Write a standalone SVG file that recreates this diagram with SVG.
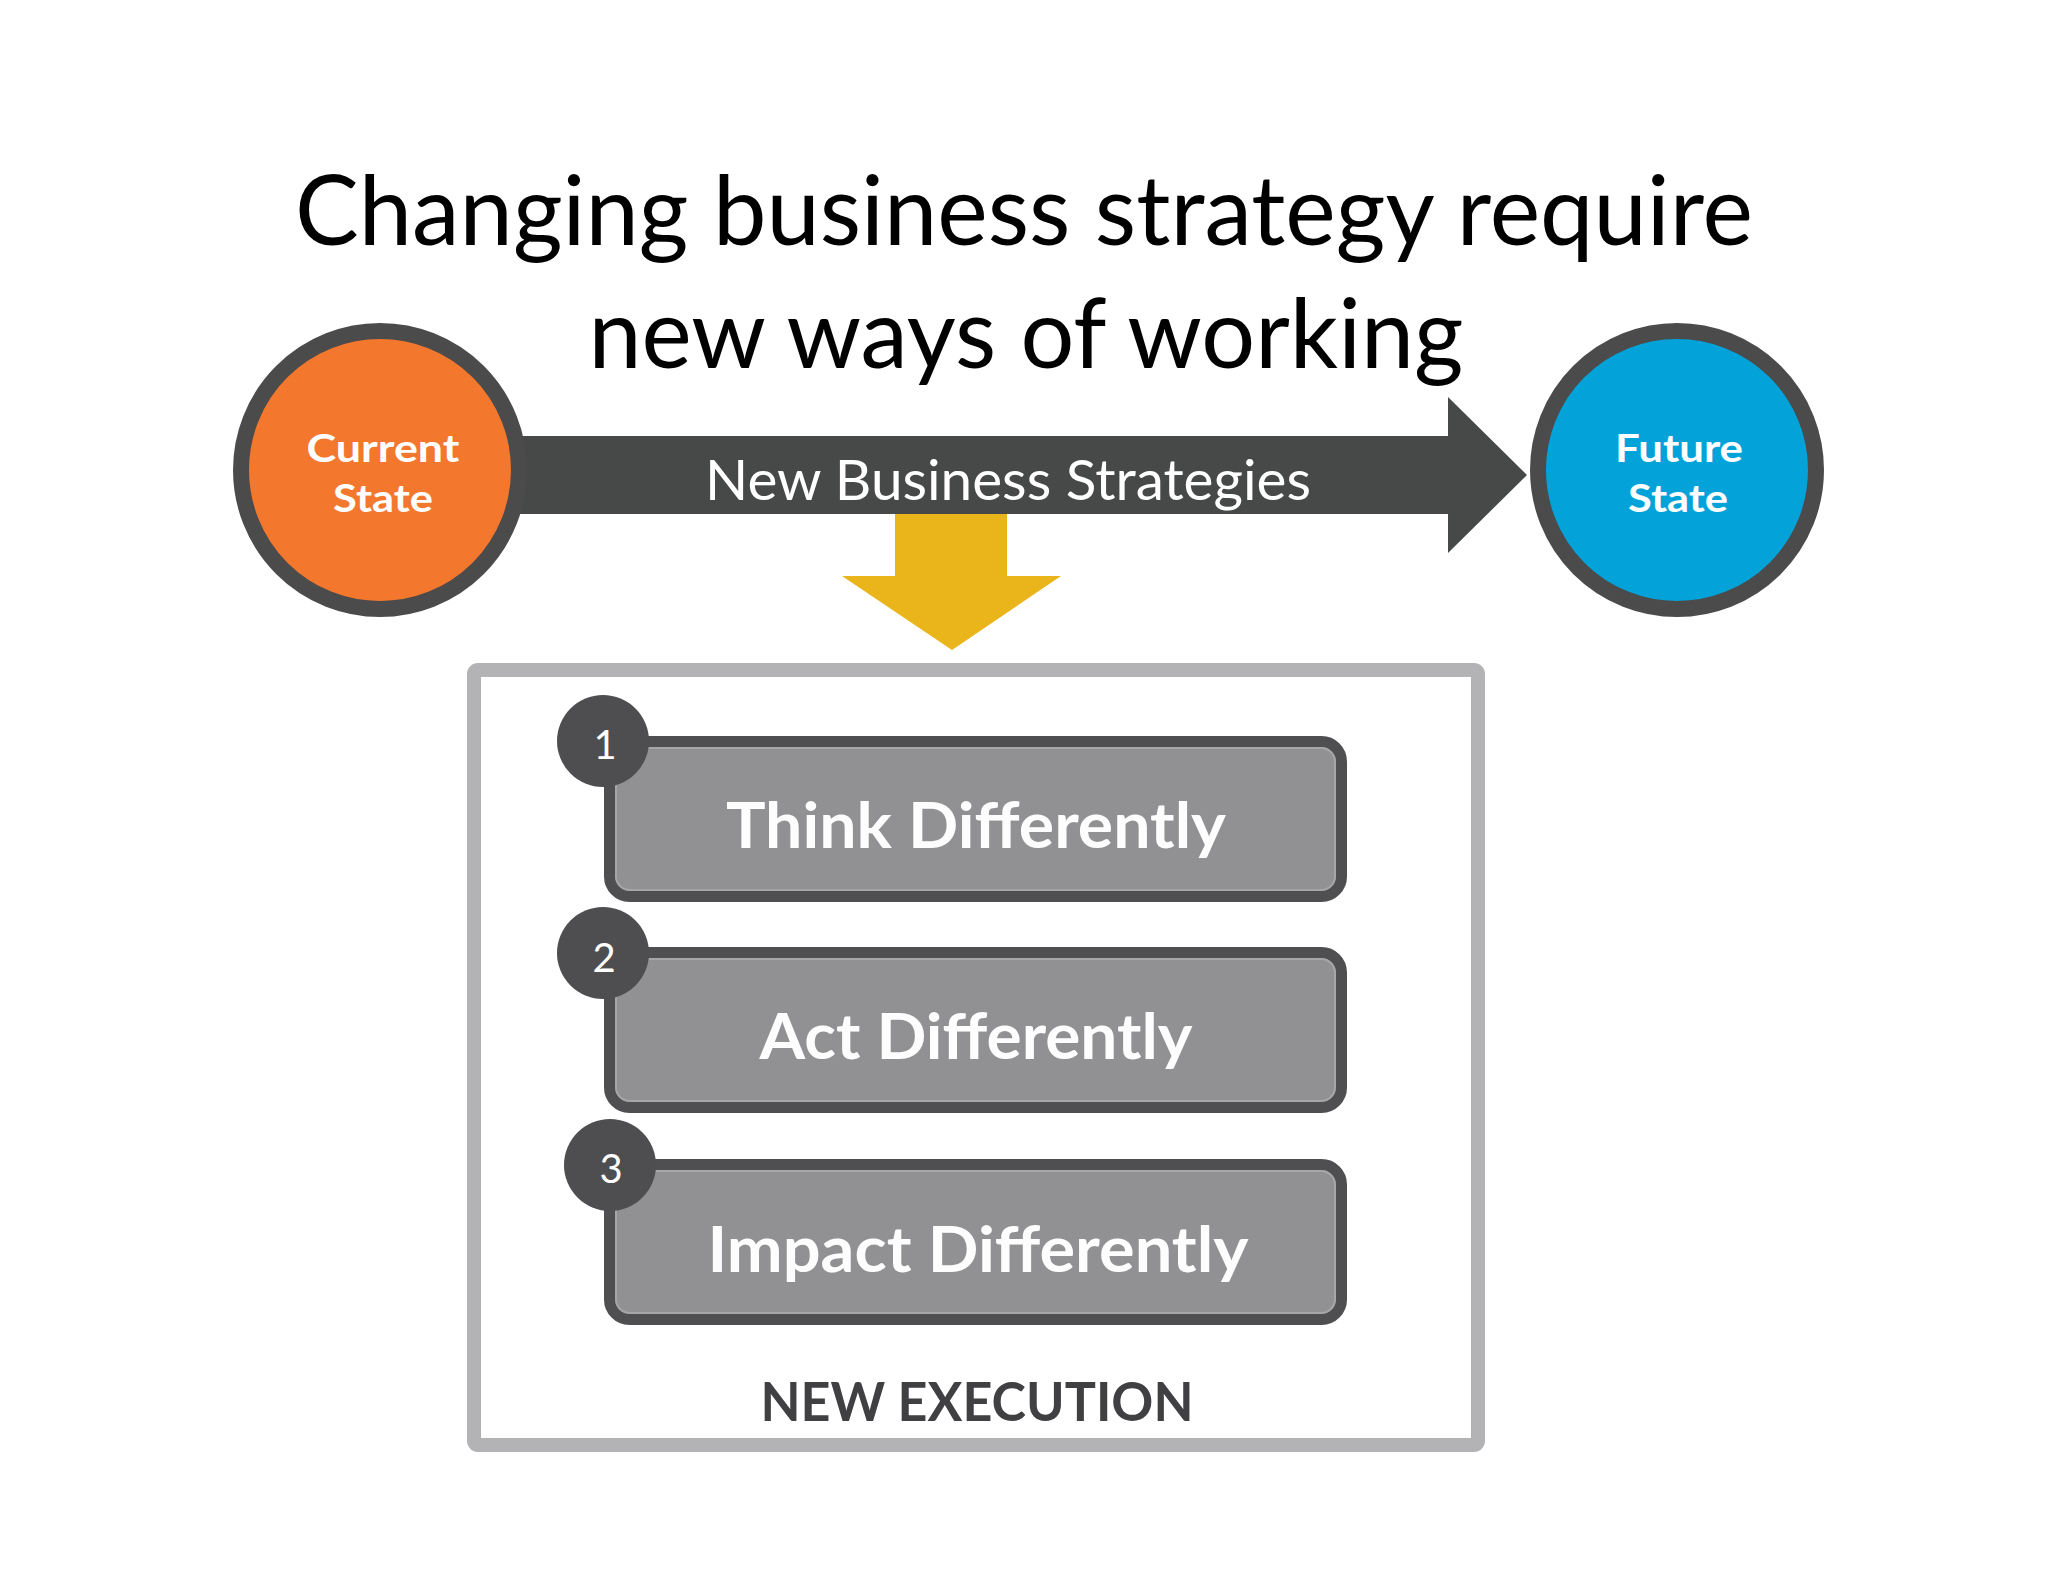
<svg xmlns="http://www.w3.org/2000/svg" width="2048" height="1582" viewBox="0 0 2048 1582">
<style>
.title{font-family:Lato,"Open Sans","Liberation Sans",sans-serif;font-size:96px;fill:#000;text-anchor:middle}
.state{font-family:Lato,"Open Sans","Liberation Sans",sans-serif;font-weight:bold;font-size:38px;fill:#fff;text-anchor:middle}
.strat{font-family:Lato,"Open Sans","Liberation Sans",sans-serif;font-size:57px;fill:#fff;text-anchor:middle}
.step{fill:#919193;stroke:#4f4e50;stroke-width:11}
.bevel{fill:none;stroke:#a6a6a8;stroke-width:2}
.steptxt{font-family:Lato,"Open Sans","Liberation Sans",sans-serif;font-weight:bold;font-size:64px;fill:#fdfdfd;text-anchor:middle}
.num{fill:#4e4d4f}
.numtxt{font-family:Lato,"Open Sans","Liberation Sans",sans-serif;font-size:40px;fill:#fff;text-anchor:middle}
.ring{stroke:#4a4b4a;stroke-width:16}
</style>
<rect width="2048" height="1582" fill="#fff"/>
<g id="title">
<text class="title" x="1024" y="245" textLength="1458" lengthAdjust="spacingAndGlyphs">Changing business strategy require</text>
<text class="title" x="1026" y="368" textLength="875" lengthAdjust="spacingAndGlyphs">new ways of working</text>
</g>
<g id="connectors">
<polygon id="yellow-arrow" points="895,510 1007,510 1007,576 1061,576 952,650 842,576 895,576" fill="#eab41b"/>
<g id="strategy-arrow">
<polygon points="380,436 1448,436 1448,397 1527,475 1448,553 1448,514 380,514" fill="#474948"/>
<text class="strat" x="1008" y="500" textLength="606" lengthAdjust="spacingAndGlyphs">New Business Strategies</text>
</g>
</g>
<g id="current-state">
<circle class="ring" cx="380" cy="470" r="139" fill="#f4772e"/>
<text class="state" x="383" y="462" textLength="153" lengthAdjust="spacingAndGlyphs">Current</text>
<text class="state" x="383" y="512" textLength="100" lengthAdjust="spacingAndGlyphs">State</text>
</g>
<g id="future-state">
<circle class="ring" cx="1677" cy="470" r="139" fill="#03a3da"/>
<text class="state" x="1679" y="462" textLength="128" lengthAdjust="spacingAndGlyphs">Future</text>
<text class="state" x="1678" y="512" textLength="100" lengthAdjust="spacingAndGlyphs">State</text>
</g>
<g id="new-execution">
<rect x="474" y="670" width="1004" height="775" rx="4" fill="#fff" stroke="#b3b3b5" stroke-width="14"/>
<text x="977" y="1421" font-family="Lato,'Open Sans','Liberation Sans',sans-serif" font-weight="bold" font-size="54" fill="#404042" text-anchor="middle" textLength="433" lengthAdjust="spacingAndGlyphs">NEW EXECUTION</text>
</g>
<g id="step-1">
<rect class="step" x="609.5" y="741.5" width="732" height="155" rx="20"/>
<rect class="bevel" x="616" y="748" width="719" height="142" rx="14"/>
<text class="steptxt" x="976" y="848" textLength="500" lengthAdjust="spacingAndGlyphs">Think Differently</text>
<circle class="num" cx="603" cy="741" r="46"/>
<text class="numtxt" x="605" y="759">1</text>
</g>
<g id="step-2">
<rect class="step" x="609.5" y="952.5" width="732" height="155" rx="20"/>
<rect class="bevel" x="616" y="959" width="719" height="142" rx="14"/>
<text class="steptxt" x="976" y="1059" textLength="433" lengthAdjust="spacingAndGlyphs">Act Differently</text>
<circle class="num" cx="603" cy="953" r="46"/>
<text class="numtxt" x="604" y="972">2</text>
</g>
<g id="step-3">
<rect class="step" x="609.5" y="1164.5" width="732" height="155" rx="20"/>
<rect class="bevel" x="616" y="1171" width="719" height="142" rx="14"/>
<text class="steptxt" x="978" y="1272" textLength="541" lengthAdjust="spacingAndGlyphs">Impact Differently</text>
<circle class="num" cx="610" cy="1165" r="46"/>
<text class="numtxt" x="611" y="1183">3</text>
</g>
</svg>
